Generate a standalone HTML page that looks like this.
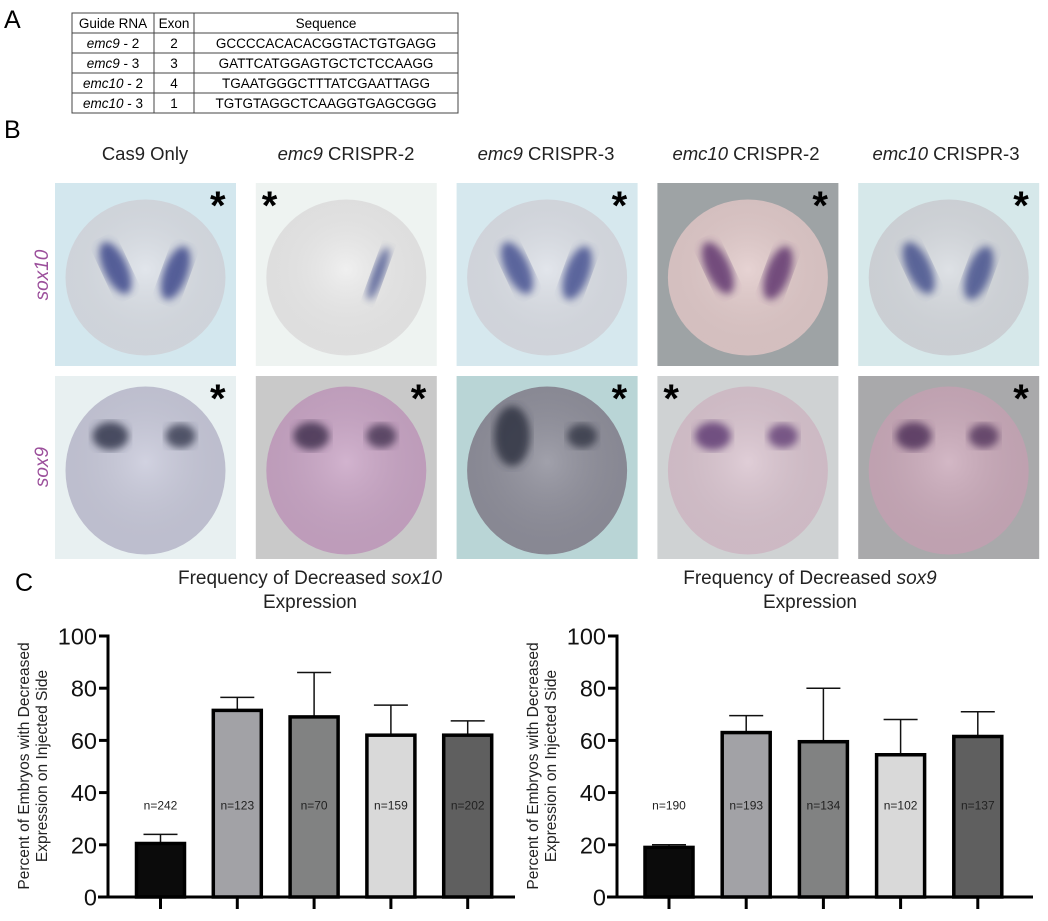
<!DOCTYPE html>
<html><head><meta charset="utf-8"><style>
body{margin:0;background:#fff;width:1048px;height:916px;overflow:hidden;font-family:"Liberation Sans",sans-serif}
svg text{font-family:"Liberation Sans",sans-serif}
</style></head><body>
<svg id="fig" width="1048" height="916" viewBox="0 0 1048 916" xmlns="http://www.w3.org/2000/svg">
<defs>
<radialGradient id="gE" cx="50%" cy="45%" r="55%"><stop offset="0" stop-color="#fff" stop-opacity="0.15"/><stop offset="1" stop-color="#000" stop-opacity="0.06"/></radialGradient>
<filter id="blur"><feGaussianBlur stdDeviation="4"/></filter>
</defs>
<text x="4" y="28" font-size="25">A</text>
<text x="4" y="138" font-size="25">B</text>
<text x="15" y="591" font-size="25">C</text>
<g font-size="13.5" text-anchor="middle" stroke-width="1">
<rect x="72" y="13" width="386" height="100" fill="none" stroke="#444"/>
<line x1="154" y1="13" x2="154" y2="113" stroke="#444"/>
<line x1="194" y1="13" x2="194" y2="113" stroke="#444"/>
<line x1="72" y1="33" x2="458" y2="33" stroke="#444"/>
<line x1="72" y1="53" x2="458" y2="53" stroke="#444"/>
<line x1="72" y1="73" x2="458" y2="73" stroke="#444"/>
<line x1="72" y1="93" x2="458" y2="93" stroke="#444"/>
<text x="113" y="28">Guide RNA</text><text x="174" y="28">Exon</text><text x="326" y="28">Sequence</text>
<text x="113" y="48"><tspan font-style="italic">emc9</tspan> - 2</text><text x="174" y="48">2</text><text x="326" y="48">GCCCCACACACGGTACTGTGAGG</text>
<text x="113" y="68"><tspan font-style="italic">emc9</tspan> - 3</text><text x="174" y="68">3</text><text x="326" y="68">GATTCATGGAGTGCTCTCCAAGG</text>
<text x="113" y="88"><tspan font-style="italic">emc10</tspan> - 2</text><text x="174" y="88">4</text><text x="326" y="88">TGAATGGGCTTTATCGAATTAGG</text>
<text x="113" y="108"><tspan font-style="italic">emc10</tspan> - 3</text><text x="174" y="108">1</text><text x="326" y="108">TGTGTAGGCTCAAGGTGAGCGGG</text>
</g>
<g font-size="18.5" text-anchor="middle" fill="#222">
<text x="145" y="160">Cas9 Only</text>
<text x="346" y="160"><tspan font-style="italic">emc9</tspan> CRISPR-2</text>
<text x="546" y="160"><tspan font-style="italic">emc9</tspan> CRISPR-3</text>
<text x="746" y="160"><tspan font-style="italic">emc10</tspan> CRISPR-2</text>
<text x="946" y="160"><tspan font-style="italic">emc10</tspan> CRISPR-3</text>
</g>
<text transform="translate(48,275) rotate(-90)" text-anchor="middle" font-size="19" font-style="italic" fill="#9b4f9b">sox10</text>
<text transform="translate(48,467) rotate(-90)" text-anchor="middle" font-size="19" font-style="italic" fill="#9b4f9b">sox9</text>
<g id="photos"></g>
<g id="chart1"></g>
<g id="chart2"></g>
<text x="310" y="584" text-anchor="middle" font-size="19" fill="#222">Frequency of Decreased <tspan font-style="italic">sox10</tspan></text>
<text x="310" y="608" text-anchor="middle" font-size="19" fill="#222">Expression</text>
<text x="810" y="584" text-anchor="middle" font-size="19" fill="#222">Frequency of Decreased <tspan font-style="italic">sox9</tspan></text>
<text x="810" y="608" text-anchor="middle" font-size="19" fill="#222">Expression</text>
</svg>
<script>
const NS="http://www.w3.org/2000/svg";
function mk(tag,attrs,parent){const e=document.createElementNS(NS,tag);for(const k in attrs)e.setAttribute(k,attrs[k]);parent.appendChild(e);return e;}
const photoBg=[["#d3e7ee","#eef3f1","#d6e8ee","#9ea3a5","#d6e8ea"],["#e8f0f1","#c9c9c9","#b9d5d6","#cfd2d3","#a9a9ab"]];
const photoEmb=[["#dce1e8","#ededed","#dde1e8","#e2cbcb","#d8dce1"],["#c9cadb","#caa6c6","#90909c","#dac5d0","#cbabbb"]];
const photoStain=[["#343f86","#4a5590","#3c4a8c","#5a2f6a","#3c4a88"],["#2a2f45","#3a2a4a","#2c2d3e","#5a3470","#4a2a55"]];
const starLeft=[[false,true,false,false,false],[false,false,false,true,false]];
const pg=document.getElementById('photos');
for(let r=0;r<2;r++)for(let c=0;c<5;c++){
  const x=55+c*200.8,y=r===0?183:376,w=181,h=183;
  const g=mk('g',{},pg);
  
  
  mk('rect',{x:x,y:y,width:w,height:h,fill:photoBg[r][c]},g);
  mk('ellipse',{cx:x+w/2,cy:y+h/2+3,rx:80,ry:r===0?78:84,fill:photoEmb[r][c]},g);
  mk('ellipse',{cx:x+w/2,cy:y+h/2+3,rx:80,ry:r===0?78:84,fill:'url(#gE)'},g);
  const s=photoStain[r][c];
  if(r===0){
    if(c!==1) mk('ellipse',{cx:x+w/2-30,cy:y+85,rx:12,ry:28,fill:s,opacity:0.8,filter:'url(#blur)',transform:`rotate(-25 ${x+w/2-30} ${y+85})`},g);
    mk('ellipse',{cx:x+w/2+(c===1?32:30),cy:y+90,rx:c===1?6:12,ry:28,fill:s,opacity:0.8,filter:'url(#blur)',transform:`rotate(20 ${x+w/2+30} ${y+90})`},g);
  } else {
    mk('ellipse',{cx:x+w/2-35,cy:y+60,rx:18,ry:c===2?30:14,fill:s,opacity:0.8,filter:'url(#blur)'},g);
    mk('ellipse',{cx:x+w/2+35,cy:y+60,rx:15,ry:12,fill:s,opacity:0.75,filter:'url(#blur)'},g);
  }
  const st=mk('text',{x:starLeft[r][c]?x+6:x+w-26,y:y+36,'font-size':40,'font-weight':'bold',fill:'#000'},g);
  st.textContent='*';
}
const categories=["Cas9 Only","emc9 CRISPR-2","emc9 CRISPR-3","emc10 CRISPR-2","emc10 CRISPR-3"];
const sox10Values=[20.5,71.5,69,62,62];
const sox10Err=[3.5,5,17,11.5,5.5];
const sox10N=["n=242","n=123","n=70","n=159","n=202"];
const sox9Values=[19,63,59.5,54.5,61.5];
const sox9Err=[1,6.5,20.5,13.5,9.5];
const sox9N=["n=190","n=193","n=134","n=102","n=137"];
const yTicks=[0,20,40,60,80,100];
const barFills=["#0b0b0b","#a2a2a6","#818282","#d9d9d9","#5f5f5f"];
function drawChart(g,ax,xEnd,firstC,step,vals,errs,ns){
  const y0=897,y100=636;
  const ys=v=>y0-(y0-y100)*v/100;
  const xs=i=>firstC+i*step;
  const bw=48;
  vals.forEach((v,i)=>{
    const l=mk('line',{x1:xs(i),x2:xs(i),y1:ys(v),y2:ys(v+errs[i]),stroke:'#111','stroke-width':1.5},g);
    
    
    const c=mk('line',{x1:xs(i)-17,x2:xs(i)+17,y1:ys(v+errs[i]),y2:ys(v+errs[i]),stroke:'#111','stroke-width':1.5},g);
    
    
    const b=mk('rect',{x:xs(i)-bw/2,y:ys(v),width:bw,height:y0-ys(v),fill:barFills[i],stroke:'#000','stroke-width':3.5},g);
    
    
    const t=mk('text',{x:xs(i),y:ys(35)+4,'text-anchor':'middle','font-size':12,fill:'#222'},g);
    
    
    t.textContent=ns[i];
    const tk=mk('line',{x1:xs(i),x2:xs(i),y1:y0,y2:y0+12,stroke:'#000','stroke-width':3},g);
    
    
  });
  const ya=mk('line',{x1:ax,x2:ax,y1:y100-1.5,y2:y0+1.5,stroke:'#000','stroke-width':3},g);
  
  
  const xa=mk('line',{x1:ax-10,x2:xEnd,y1:y0,y2:y0,stroke:'#000','stroke-width':3},g);
  
  
  yTicks.forEach(t=>{
    mk('line',{x1:ax-9,x2:ax,y1:ys(t),y2:ys(t),stroke:'#000','stroke-width':3},g);
    const lb=mk('text',{x:ax-11,y:ys(t)+8.5,'text-anchor':'end','font-size':23.5,fill:'#111'},g);
    
    
    lb.textContent=t;
  });
  const cy=766;
  const t1=mk('text',{transform:`translate(${ax-79},${cy}) rotate(-90)`,'text-anchor':'middle','font-size':15.5,fill:'#222'},g);
  
  
  t1.textContent='Percent of Embryos with Decreased';
  const t2=mk('text',{transform:`translate(${ax-61},${cy}) rotate(-90)`,'text-anchor':'middle','font-size':15.5,fill:'#222'},g);
  
  
  t2.textContent='Expression on Injected Side';
}
drawChart(document.getElementById('chart1'),108,515,160.5,76.8,sox10Values,sox10Err,sox10N);
drawChart(document.getElementById('chart2'),617,1033,669,77.2,sox9Values,sox9Err,sox9N);
</script>
</body></html>
